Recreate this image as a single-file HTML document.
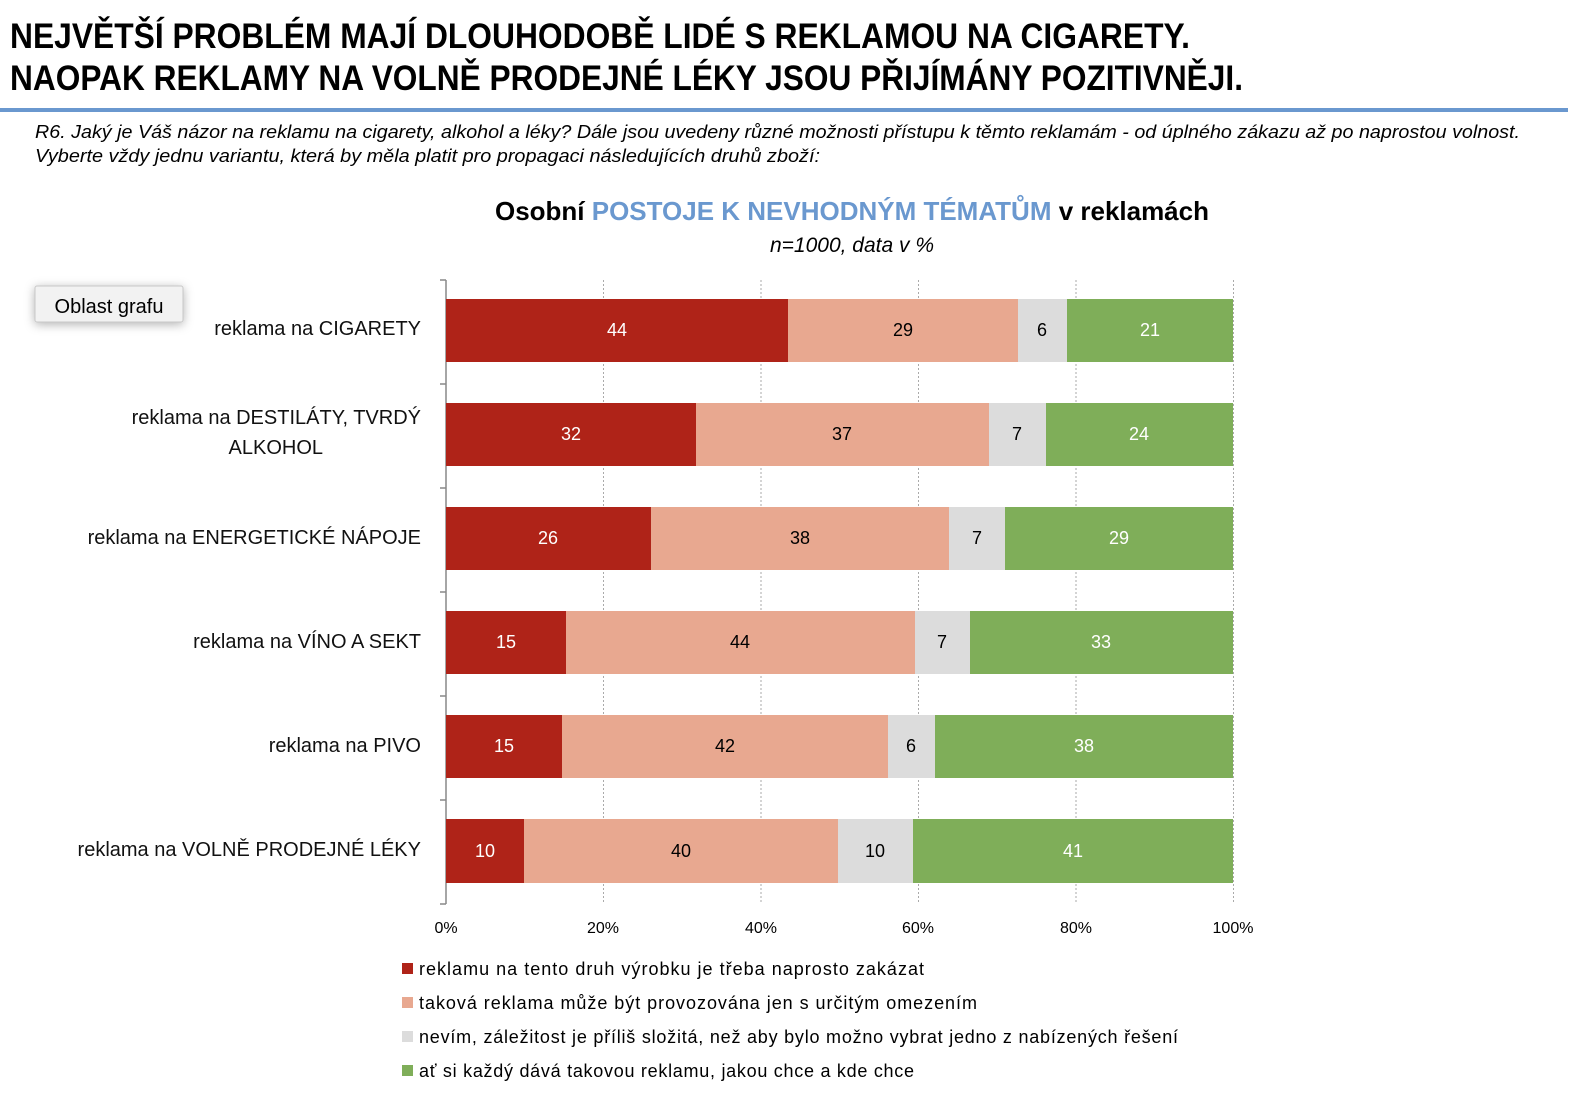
<!DOCTYPE html>
<html><head><meta charset="utf-8"><style>
body{margin:0;background:#fff;}
svg{display:block;font-family:"Liberation Sans",sans-serif;}
</style></head><body>
<svg width="1576" height="1094" xmlns="http://www.w3.org/2000/svg">
<text x="10" y="48" font-size="35" font-weight="bold" textLength="1180" lengthAdjust="spacingAndGlyphs">NEJVĚTŠÍ PROBLÉM MAJÍ DLOUHODOBĚ LIDÉ S REKLAMOU NA CIGARETY.</text>
<text x="10" y="90" font-size="35" font-weight="bold" textLength="1233" lengthAdjust="spacingAndGlyphs">NAOPAK REKLAMY NA VOLNĚ PRODEJNÉ LÉKY JSOU PŘIJÍMÁNY POZITIVNĚJI.</text>
<rect x="0" y="108" width="1568" height="4" fill="#6A98CF"/>
<text x="35" y="138" font-size="18" font-style="italic" textLength="1485" lengthAdjust="spacingAndGlyphs">R6.  Jaký je Váš názor na reklamu na cigarety, alkohol a léky? Dále jsou uvedeny různé možnosti přístupu k těmto reklamám - od úplného zákazu až po naprostou volnost.</text>
<text x="35" y="162" font-size="18" font-style="italic" textLength="785" lengthAdjust="spacingAndGlyphs">Vyberte vždy jednu variantu, která by měla platit pro propagaci následujících druhů zboží:</text>
<text x="852" y="220" font-size="26" font-weight="bold" text-anchor="middle" textLength="714" lengthAdjust="spacingAndGlyphs">Osobní <tspan fill="#6A98CF">POSTOJE K NEVHODNÝM TÉMATŮM</tspan> v reklamách</text>
<text x="852" y="252" font-size="21" font-style="italic" text-anchor="middle">n=1000, data v %</text>
<g stroke="#aaa" stroke-dasharray="2,2" stroke-width="1">
<line x1="603.5" y1="280" x2="603.5" y2="904"/><line x1="761" y1="280" x2="761" y2="904"/><line x1="918.5" y1="280" x2="918.5" y2="904"/><line x1="1076" y1="280" x2="1076" y2="904"/><line x1="1233.5" y1="280" x2="1233.5" y2="904"/>
</g>
<g stroke="#888" stroke-width="1.5">
<line x1="446" y1="280" x2="446" y2="904"/>
<line x1="440" y1="280" x2="446" y2="280"/><line x1="440" y1="384" x2="446" y2="384"/><line x1="440" y1="488" x2="446" y2="488"/><line x1="440" y1="592" x2="446" y2="592"/><line x1="440" y1="696" x2="446" y2="696"/><line x1="440" y1="800" x2="446" y2="800"/><line x1="440" y1="904" x2="446" y2="904"/>
</g>
<g font-size="18" text-anchor="middle">
<rect x="446" y="299" width="342" height="63" fill="#AF2318"/><rect x="788" y="299" width="230" height="63" fill="#E8A890"/><rect x="1018" y="299" width="49" height="63" fill="#DCDCDC"/><rect x="1067" y="299" width="166" height="63" fill="#7FAE59"/>
<text x="617" y="336" fill="#fff">44</text><text x="903" y="336">29</text><text x="1042" y="336">6</text><text x="1150" y="336" fill="#fff">21</text>
<rect x="446" y="403" width="250" height="63" fill="#AF2318"/><rect x="696" y="403" width="293" height="63" fill="#E8A890"/><rect x="989" y="403" width="57" height="63" fill="#DCDCDC"/><rect x="1046" y="403" width="187" height="63" fill="#7FAE59"/>
<text x="571" y="440" fill="#fff">32</text><text x="842" y="440">37</text><text x="1017" y="440">7</text><text x="1139" y="440" fill="#fff">24</text>
<rect x="446" y="507" width="205" height="63" fill="#AF2318"/><rect x="651" y="507" width="298" height="63" fill="#E8A890"/><rect x="949" y="507" width="56" height="63" fill="#DCDCDC"/><rect x="1005" y="507" width="228" height="63" fill="#7FAE59"/>
<text x="548" y="544" fill="#fff">26</text><text x="800" y="544">38</text><text x="977" y="544">7</text><text x="1119" y="544" fill="#fff">29</text>
<rect x="446" y="611" width="120" height="63" fill="#AF2318"/><rect x="566" y="611" width="349" height="63" fill="#E8A890"/><rect x="915" y="611" width="55" height="63" fill="#DCDCDC"/><rect x="970" y="611" width="263" height="63" fill="#7FAE59"/>
<text x="506" y="648" fill="#fff">15</text><text x="740" y="648">44</text><text x="942" y="648">7</text><text x="1101" y="648" fill="#fff">33</text>
<rect x="446" y="715" width="116" height="63" fill="#AF2318"/><rect x="562" y="715" width="326" height="63" fill="#E8A890"/><rect x="888" y="715" width="47" height="63" fill="#DCDCDC"/><rect x="935" y="715" width="298" height="63" fill="#7FAE59"/>
<text x="504" y="752" fill="#fff">15</text><text x="725" y="752">42</text><text x="911" y="752">6</text><text x="1084" y="752" fill="#fff">38</text>
<rect x="446" y="819" width="78" height="64" fill="#AF2318"/><rect x="524" y="819" width="314" height="64" fill="#E8A890"/><rect x="838" y="819" width="75" height="64" fill="#DCDCDC"/><rect x="913" y="819" width="320" height="64" fill="#7FAE59"/>
<text x="485" y="857" fill="#fff">10</text><text x="681" y="857">40</text><text x="875" y="857">10</text><text x="1073" y="857" fill="#fff">41</text>
</g>
<g font-size="20" text-anchor="end" fill="#111">
<text x="421" y="335">reklama na CIGARETY</text>
<text x="421" y="424">reklama na DESTILÁTY, TVRDÝ</text>
<text x="323" y="454">ALKOHOL</text>
<text x="421" y="544">reklama na ENERGETICKÉ NÁPOJE</text>
<text x="421" y="648">reklama na VÍNO A SEKT</text>
<text x="421" y="752">reklama na PIVO</text>
<text x="421" y="856">reklama na VOLNĚ PRODEJNÉ LÉKY</text>
</g>
<g font-size="16" text-anchor="middle">
<text x="446" y="933">0%</text><text x="603" y="933">20%</text><text x="761" y="933">40%</text><text x="918" y="933">60%</text><text x="1076" y="933">80%</text><text x="1233" y="933">100%</text>
</g>
<g font-size="18">
<rect x="402" y="963" width="11" height="11" fill="#AF2318"/><text x="419" y="975" textLength="505" lengthAdjust="spacing">reklamu na tento druh výrobku je třeba naprosto zakázat</text>
<rect x="402" y="997" width="11" height="11" fill="#E8A890"/><text x="419" y="1009" textLength="558" lengthAdjust="spacing">taková reklama může být provozována jen s určitým omezením</text>
<rect x="402" y="1031" width="11" height="11" fill="#DCDCDC"/><text x="419" y="1043" textLength="759" lengthAdjust="spacing">nevím, záležitost je příliš složitá, než aby bylo možno vybrat jedno z nabízených řešení</text>
<rect x="402" y="1065" width="11" height="11" fill="#7FAE59"/><text x="419" y="1077" textLength="495" lengthAdjust="spacing">ať si každý dává takovou reklamu, jakou chce a kde chce</text>
</g>
<defs><filter id="sh" x="-30%" y="-50%" width="160%" height="200%"><feDropShadow dx="0" dy="2" stdDeviation="5" flood-opacity="0.3"/></filter></defs>
<rect x="35" y="286" width="148" height="36" rx="2" fill="#f2f2f2" stroke="#c8c8c8" filter="url(#sh)"/>
<text x="109" y="313" font-size="20" text-anchor="middle">Oblast grafu</text>
</svg>
</body></html>
